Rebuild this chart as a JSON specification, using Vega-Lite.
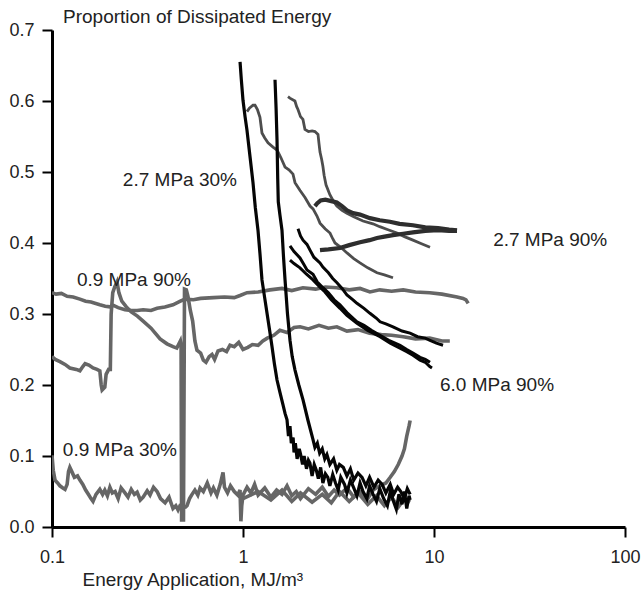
{
  "$schema": "https://vega.github.io/schema/vega-lite/v6.json",
  "width": 573,
  "height": 497,
  "autosize": "none",
  "padding": {"left": 52, "top": 30, "right": 19, "bottom": 63},
  "background": "white",
  "config": {
    "view": {"stroke": null},
    "font": "Liberation Sans",
    "title": {"font": "Liberation Sans"}
  },
  "title": {
    "text": "Proportion of Dissipated Energy",
    "anchor": "start",
    "frame": "group",
    "dx": 11,
    "dy": 12,
    "offset": 6,
    "fontSize": 19,
    "fontWeight": "normal",
    "color": "#222"
  },
  "datasets": {
    "lines": [
      {"s":"0.9a","x":0.100,"y":0.330},{"s":"0.9a","x":0.105,"y":0.328},{"s":"0.9a","x":0.112,"y":0.329},{"s":"0.9a","x":0.120,"y":0.325},{"s":"0.9a","x":0.129,"y":0.324},{"s":"0.9a","x":0.140,"y":0.321},{"s":"0.9a","x":0.150,"y":0.318},{"s":"0.9a","x":0.160,"y":0.317},{"s":"0.9a","x":0.178,"y":0.313},{"s":"0.9a","x":0.190,"y":0.311},{"s":"0.9a","x":0.201,"y":0.310},{"s":"0.9a","x":0.210,"y":0.312},{"s":"0.9a","x":0.222,"y":0.309},{"s":"0.9a","x":0.241,"y":0.306},{"s":"0.9a","x":0.260,"y":0.305},{"s":"0.9a","x":0.279,"y":0.305},{"s":"0.9a","x":0.300,"y":0.306},{"s":"0.9a","x":0.330,"y":0.305},{"s":"0.9a","x":0.355,"y":0.308},{"s":"0.9a","x":0.390,"y":0.310},{"s":"0.9a","x":0.430,"y":0.313},{"s":"0.9a","x":0.470,"y":0.318},{"s":"0.9a","x":0.497,"y":0.321},{"s":"0.9a","x":0.550,"y":0.320},{"s":"0.9a","x":0.600,"y":0.322},{"s":"0.9a","x":0.700,"y":0.323},{"s":"0.9a","x":0.800,"y":0.324},{"s":"0.9a","x":0.900,"y":0.323},{"s":"0.9a","x":0.965,"y":0.326},{"s":"0.9a","x":1.05,"y":0.330},{"s":"0.9a","x":1.2,"y":0.331},{"s":"0.9a","x":1.385,"y":0.334},{"s":"0.9a","x":1.6,"y":0.336},{"s":"0.9a","x":1.8,"y":0.333},{"s":"0.9a","x":2.06,"y":0.337},{"s":"0.9a","x":2.4,"y":0.335},{"s":"0.9a","x":2.7,"y":0.338},{"s":"0.9a","x":3.1,"y":0.337},{"s":"0.9a","x":3.6,"y":0.334},{"s":"0.9a","x":4.1,"y":0.336},{"s":"0.9a","x":4.62,"y":0.331},{"s":"0.9a","x":5.2,"y":0.334},{"s":"0.9a","x":6.0,"y":0.332},{"s":"0.9a","x":6.9,"y":0.334},{"s":"0.9a","x":8.0,"y":0.331},{"s":"0.9a","x":9.5,"y":0.330},{"s":"0.9a","x":11,"y":0.328},{"s":"0.9a","x":13.2,"y":0.324},{"s":"0.9a","x":14.2,"y":0.322},{"s":"0.9a","x":14.7,"y":0.320},{"s":"0.9a","x":15.1,"y":0.315},

      {"s":"0.9b","x":0.100,"y":0.240},{"s":"0.9b","x":0.104,"y":0.236},{"s":"0.9b","x":0.110,"y":0.233},{"s":"0.9b","x":0.117,"y":0.229},{"s":"0.9b","x":0.124,"y":0.224},{"s":"0.9b","x":0.134,"y":0.222},{"s":"0.9b","x":0.140,"y":0.220},{"s":"0.9b","x":0.145,"y":0.226},{"s":"0.9b","x":0.149,"y":0.230},{"s":"0.9b","x":0.156,"y":0.228},{"s":"0.9b","x":0.164,"y":0.224},{"s":"0.9b","x":0.172,"y":0.222},{"s":"0.9b","x":0.178,"y":0.220},{"s":"0.9b","x":0.181,"y":0.200},{"s":"0.9b","x":0.183,"y":0.193},{"s":"0.9b","x":0.189,"y":0.197},{"s":"0.9b","x":0.192,"y":0.215},{"s":"0.9b","x":0.198,"y":0.222},{"s":"0.9b","x":0.202,"y":0.222},{"s":"0.9b","x":0.204,"y":0.300},{"s":"0.9b","x":0.208,"y":0.330},{"s":"0.9b","x":0.213,"y":0.338},{"s":"0.9b","x":0.219,"y":0.345},{"s":"0.9b","x":0.224,"y":0.330},{"s":"0.9b","x":0.232,"y":0.318},{"s":"0.9b","x":0.245,"y":0.310},{"s":"0.9b","x":0.260,"y":0.303},{"s":"0.9b","x":0.280,"y":0.297},{"s":"0.9b","x":0.300,"y":0.290},{"s":"0.9b","x":0.330,"y":0.280},{"s":"0.9b","x":0.368,"y":0.265},{"s":"0.9b","x":0.400,"y":0.258},{"s":"0.9b","x":0.430,"y":0.254},{"s":"0.9b","x":0.450,"y":0.252},{"s":"0.9b","x":0.462,"y":0.258},{"s":"0.9b","x":0.470,"y":0.262},{"s":"0.9b","x":0.474,"y":0.255},{"s":"0.9b","x":0.477,"y":0.010},{"s":"0.9b","x":0.488,"y":0.010},{"s":"0.9b","x":0.494,"y":0.335},{"s":"0.9b","x":0.505,"y":0.334},{"s":"0.9b","x":0.515,"y":0.325},{"s":"0.9b","x":0.530,"y":0.305},{"s":"0.9b","x":0.545,"y":0.290},{"s":"0.9b","x":0.560,"y":0.262},{"s":"0.9b","x":0.574,"y":0.249},{"s":"0.9b","x":0.600,"y":0.245},{"s":"0.9b","x":0.620,"y":0.235},{"s":"0.9b","x":0.640,"y":0.232},{"s":"0.9b","x":0.665,"y":0.240},{"s":"0.9b","x":0.688,"y":0.243},{"s":"0.9b","x":0.710,"y":0.236},{"s":"0.9b","x":0.740,"y":0.248},{"s":"0.9b","x":0.780,"y":0.250},{"s":"0.9b","x":0.820,"y":0.247},{"s":"0.9b","x":0.855,"y":0.256},{"s":"0.9b","x":0.900,"y":0.254},{"s":"0.9b","x":0.950,"y":0.260},{"s":"0.9b","x":1.0,"y":0.250},{"s":"0.9b","x":1.06,"y":0.253},{"s":"0.9b","x":1.12,"y":0.257},{"s":"0.9b","x":1.2,"y":0.256},{"s":"0.9b","x":1.27,"y":0.262},{"s":"0.9b","x":1.34,"y":0.266},{"s":"0.9b","x":1.45,"y":0.270},{"s":"0.9b","x":1.56,"y":0.277},{"s":"0.9b","x":1.7,"y":0.274},{"s":"0.9b","x":1.85,"y":0.281},{"s":"0.9b","x":1.99,"y":0.282},{"s":"0.9b","x":2.2,"y":0.279},{"s":"0.9b","x":2.5,"y":0.284},{"s":"0.9b","x":2.8,"y":0.280},{"s":"0.9b","x":3.1,"y":0.282},{"s":"0.9b","x":3.5,"y":0.276},{"s":"0.9b","x":4.0,"y":0.278},{"s":"0.9b","x":4.6,"y":0.273},{"s":"0.9b","x":5.3,"y":0.271},{"s":"0.9b","x":6.0,"y":0.270},{"s":"0.9b","x":6.9,"y":0.268},{"s":"0.9b","x":8.0,"y":0.265},{"s":"0.9b","x":9.5,"y":0.266},{"s":"0.9b","x":11,"y":0.262},{"s":"0.9b","x":12.1,"y":0.262},

      {"s":"0.9c","x":0.100,"y":0.101},{"s":"0.9c","x":0.1015,"y":0.080},{"s":"0.9c","x":0.1037,"y":0.066},{"s":"0.9c","x":0.107,"y":0.062},{"s":"0.9c","x":0.110,"y":0.058},{"s":"0.9c","x":0.114,"y":0.055},{"s":"0.9c","x":0.117,"y":0.053},{"s":"0.9c","x":0.120,"y":0.060},{"s":"0.9c","x":0.122,"y":0.078},{"s":"0.9c","x":0.124,"y":0.084},{"s":"0.9c","x":0.127,"y":0.078},{"s":"0.9c","x":0.131,"y":0.070},{"s":"0.9c","x":0.136,"y":0.072},{"s":"0.9c","x":0.140,"y":0.066},{"s":"0.9c","x":0.145,"y":0.060},{"s":"0.9c","x":0.150,"y":0.052},{"s":"0.9c","x":0.155,"y":0.046},{"s":"0.9c","x":0.160,"y":0.040},{"s":"0.9c","x":0.164,"y":0.036},{"s":"0.9c","x":0.170,"y":0.046},{"s":"0.9c","x":0.178,"y":0.053},{"s":"0.9c","x":0.184,"y":0.046},{"s":"0.9c","x":0.189,"y":0.052},{"s":"0.9c","x":0.195,"y":0.044},{"s":"0.9c","x":0.201,"y":0.056},{"s":"0.9c","x":0.207,"y":0.048},{"s":"0.9c","x":0.214,"y":0.050},{"s":"0.9c","x":0.222,"y":0.040},{"s":"0.9c","x":0.230,"y":0.055},{"s":"0.9c","x":0.241,"y":0.048},{"s":"0.9c","x":0.250,"y":0.042},{"s":"0.9c","x":0.260,"y":0.053},{"s":"0.9c","x":0.270,"y":0.046},{"s":"0.9c","x":0.279,"y":0.049},{"s":"0.9c","x":0.290,"y":0.038},{"s":"0.9c","x":0.300,"y":0.042},{"s":"0.9c","x":0.315,"y":0.051},{"s":"0.9c","x":0.326,"y":0.045},{"s":"0.9c","x":0.340,"y":0.056},{"s":"0.9c","x":0.355,"y":0.050},{"s":"0.9c","x":0.370,"y":0.040},{"s":"0.9c","x":0.391,"y":0.034},{"s":"0.9c","x":0.410,"y":0.042},{"s":"0.9c","x":0.430,"y":0.026},{"s":"0.9c","x":0.445,"y":0.030},{"s":"0.9c","x":0.457,"y":0.024},{"s":"0.9c","x":0.468,"y":0.030},{"s":"0.9c","x":0.500,"y":0.028},{"s":"0.9c","x":0.509,"y":0.030},{"s":"0.9c","x":0.525,"y":0.040},{"s":"0.9c","x":0.541,"y":0.046},{"s":"0.9c","x":0.560,"y":0.052},{"s":"0.9c","x":0.580,"y":0.045},{"s":"0.9c","x":0.596,"y":0.055},{"s":"0.9c","x":0.620,"y":0.050},{"s":"0.9c","x":0.650,"y":0.062},{"s":"0.9c","x":0.680,"y":0.048},{"s":"0.9c","x":0.700,"y":0.055},{"s":"0.9c","x":0.730,"y":0.045},{"s":"0.9c","x":0.760,"y":0.060},{"s":"0.9c","x":0.786,"y":0.077},{"s":"0.9c","x":0.800,"y":0.056},{"s":"0.9c","x":0.830,"y":0.048},{"s":"0.9c","x":0.860,"y":0.058},{"s":"0.9c","x":0.900,"y":0.050},{"s":"0.9c","x":0.940,"y":0.045},{"s":"0.9c","x":0.965,"y":0.052},{"s":"0.9c","x":0.975,"y":0.008},{"s":"0.9c","x":0.985,"y":0.030},{"s":"0.9c","x":1.0,"y":0.045},{"s":"0.9c","x":1.05,"y":0.056},{"s":"0.9c","x":1.1,"y":0.048},{"s":"0.9c","x":1.15,"y":0.060},{"s":"0.9c","x":1.2,"y":0.045},{"s":"0.9c","x":1.3,"y":0.055},{"s":"0.9c","x":1.4,"y":0.042},{"s":"0.9c","x":1.5,"y":0.052},{"s":"0.9c","x":1.6,"y":0.046},{"s":"0.9c","x":1.7,"y":0.058},{"s":"0.9c","x":1.8,"y":0.044},{"s":"0.9c","x":1.9,"y":0.050},{"s":"0.9c","x":2.0,"y":0.040},{"s":"0.9c","x":2.2,"y":0.054},{"s":"0.9c","x":2.4,"y":0.046},{"s":"0.9c","x":2.6,"y":0.056},{"s":"0.9c","x":2.8,"y":0.043},{"s":"0.9c","x":3.0,"y":0.052},{"s":"0.9c","x":3.2,"y":0.045},{"s":"0.9c","x":3.5,"y":0.055},{"s":"0.9c","x":3.8,"y":0.042},{"s":"0.9c","x":4.1,"y":0.050},{"s":"0.9c","x":4.5,"y":0.040},{"s":"0.9c","x":4.8,"y":0.052},{"s":"0.9c","x":5.2,"y":0.058},{"s":"0.9c","x":5.6,"y":0.062},{"s":"0.9c","x":5.9,"y":0.070},{"s":"0.9c","x":6.2,"y":0.078},{"s":"0.9c","x":6.5,"y":0.088},{"s":"0.9c","x":6.8,"y":0.100},{"s":"0.9c","x":7.0,"y":0.110},{"s":"0.9c","x":7.2,"y":0.128},{"s":"0.9c","x":7.4,"y":0.142},{"s":"0.9c","x":7.5,"y":0.150},

      {"s":"0.9d","x":1.0,"y":0.040},{"s":"0.9d","x":1.2,"y":0.050},{"s":"0.9d","x":1.4,"y":0.038},{"s":"0.9d","x":1.6,"y":0.052},{"s":"0.9d","x":1.8,"y":0.036},{"s":"0.9d","x":2.0,"y":0.048},{"s":"0.9d","x":2.3,"y":0.035},{"s":"0.9d","x":2.6,"y":0.046},{"s":"0.9d","x":2.9,"y":0.034},{"s":"0.9d","x":3.2,"y":0.050},{"s":"0.9d","x":3.6,"y":0.036},{"s":"0.9d","x":4.0,"y":0.048},{"s":"0.9d","x":4.5,"y":0.032},{"s":"0.9d","x":5.0,"y":0.044},{"s":"0.9d","x":5.5,"y":0.030},{"s":"0.9d","x":6.0,"y":0.042},{"s":"0.9d","x":6.5,"y":0.028},{"s":"0.9d","x":7.0,"y":0.040},{"s":"0.9d","x":7.5,"y":0.035},

      {"s":"2.7-30a","x":1.049,"y":0.585},{"s":"2.7-30a","x":1.08,"y":0.590},{"s":"2.7-30a","x":1.128,"y":0.594},{"s":"2.7-30a","x":1.156,"y":0.594},{"s":"2.7-30a","x":1.19,"y":0.588},{"s":"2.7-30a","x":1.227,"y":0.577},{"s":"2.7-30a","x":1.257,"y":0.555},{"s":"2.7-30a","x":1.30,"y":0.548},{"s":"2.7-30a","x":1.352,"y":0.541},{"s":"2.7-30a","x":1.436,"y":0.535},{"s":"2.7-30a","x":1.507,"y":0.531},{"s":"2.7-30a","x":1.58,"y":0.520},{"s":"2.7-30a","x":1.66,"y":0.507},{"s":"2.7-30a","x":1.74,"y":0.503},{"s":"2.7-30a","x":1.827,"y":0.497},{"s":"2.7-30a","x":1.872,"y":0.485},{"s":"2.7-30a","x":1.99,"y":0.474},{"s":"2.7-30a","x":2.112,"y":0.464},{"s":"2.7-30a","x":2.243,"y":0.452},{"s":"2.7-30a","x":2.326,"y":0.448},{"s":"2.7-30a","x":2.44,"y":0.438},{"s":"2.7-30a","x":2.53,"y":0.428},{"s":"2.7-30a","x":2.69,"y":0.420},{"s":"2.7-30a","x":2.855,"y":0.414},{"s":"2.7-30a","x":2.95,"y":0.406},{"s":"2.7-30a","x":3.032,"y":0.400},{"s":"2.7-30a","x":3.25,"y":0.394},{"s":"2.7-30a","x":3.504,"y":0.386},{"s":"2.7-30a","x":3.8,"y":0.378},{"s":"2.7-30a","x":4.099,"y":0.372},{"s":"2.7-30a","x":4.5,"y":0.365},{"s":"2.7-30a","x":5.031,"y":0.358},{"s":"2.7-30a","x":5.5,"y":0.355},{"s":"2.7-30a","x":6.1,"y":0.351},

      {"s":"2.7-30b","x":1.72,"y":0.606},{"s":"2.7-30b","x":1.76,"y":0.604},{"s":"2.7-30b","x":1.87,"y":0.600},{"s":"2.7-30b","x":1.91,"y":0.592},{"s":"2.7-30b","x":1.94,"y":0.588},{"s":"2.7-30b","x":2.0,"y":0.578},{"s":"2.7-30b","x":2.06,"y":0.574},{"s":"2.7-30b","x":2.11,"y":0.560},{"s":"2.7-30b","x":2.2,"y":0.557},{"s":"2.7-30b","x":2.3,"y":0.558},{"s":"2.7-30b","x":2.38,"y":0.557},{"s":"2.7-30b","x":2.47,"y":0.553},{"s":"2.7-30b","x":2.50,"y":0.540},{"s":"2.7-30b","x":2.53,"y":0.528},{"s":"2.7-30b","x":2.58,"y":0.518},{"s":"2.7-30b","x":2.62,"y":0.508},{"s":"2.7-30b","x":2.66,"y":0.495},{"s":"2.7-30b","x":2.72,"y":0.482},{"s":"2.7-30b","x":2.85,"y":0.468},{"s":"2.7-30b","x":2.96,"y":0.460},{"s":"2.7-30b","x":3.1,"y":0.452},{"s":"2.7-30b","x":3.3,"y":0.446},{"s":"2.7-30b","x":3.5,"y":0.442},{"s":"2.7-30b","x":3.8,"y":0.437},{"s":"2.7-30b","x":4.25,"y":0.431},{"s":"2.7-30b","x":4.79,"y":0.427},{"s":"2.7-30b","x":5.2,"y":0.423},{"s":"2.7-30b","x":5.7,"y":0.419},{"s":"2.7-30b","x":6.4,"y":0.414},{"s":"2.7-30b","x":7.0,"y":0.409},{"s":"2.7-30b","x":7.76,"y":0.404},{"s":"2.7-30b","x":8.6,"y":0.399},{"s":"2.7-30b","x":9.53,"y":0.394},

      {"s":"2.7-90a","x":2.38,"y":0.452},{"s":"2.7-90a","x":2.45,"y":0.456},{"s":"2.7-90a","x":2.55,"y":0.460},{"s":"2.7-90a","x":2.7,"y":0.461},{"s":"2.7-90a","x":2.9,"y":0.459},{"s":"2.7-90a","x":3.1,"y":0.457},{"s":"2.7-90a","x":3.3,"y":0.452},{"s":"2.7-90a","x":3.5,"y":0.446},{"s":"2.7-90a","x":3.77,"y":0.442},{"s":"2.7-90a","x":4.1,"y":0.440},{"s":"2.7-90a","x":4.62,"y":0.435},{"s":"2.7-90a","x":5.2,"y":0.432},{"s":"2.7-90a","x":5.88,"y":0.430},{"s":"2.7-90a","x":6.6,"y":0.427},{"s":"2.7-90a","x":7.76,"y":0.425},{"s":"2.7-90a","x":9.0,"y":0.422},{"s":"2.7-90a","x":10.5,"y":0.421},{"s":"2.7-90a","x":12.0,"y":0.419},{"s":"2.7-90a","x":13.2,"y":0.418},

      {"s":"2.7-90b","x":2.53,"y":0.390},{"s":"2.7-90b","x":2.8,"y":0.391},{"s":"2.7-90b","x":3.22,"y":0.393},{"s":"2.7-90b","x":3.6,"y":0.397},{"s":"2.7-90b","x":4.1,"y":0.401},{"s":"2.7-90b","x":4.6,"y":0.404},{"s":"2.7-90b","x":5.03,"y":0.407},{"s":"2.7-90b","x":5.5,"y":0.409},{"s":"2.7-90b","x":6.1,"y":0.411},{"s":"2.7-90b","x":6.9,"y":0.413},{"s":"2.7-90b","x":7.76,"y":0.415},{"s":"2.7-90b","x":9.0,"y":0.417},{"s":"2.7-90b","x":10.5,"y":0.418},{"s":"2.7-90b","x":12.0,"y":0.417},{"s":"2.7-90b","x":13.2,"y":0.417},

      {"s":"6.0-90a","x":1.941,"y":0.420},{"s":"6.0-90a","x":2.0,"y":0.410},{"s":"6.0-90a","x":2.062,"y":0.404},{"s":"6.0-90a","x":2.163,"y":0.398},{"s":"6.0-90a","x":2.243,"y":0.390},{"s":"6.0-90a","x":2.35,"y":0.380},{"s":"6.0-90a","x":2.53,"y":0.372},{"s":"6.0-90a","x":2.62,"y":0.366},{"s":"6.0-90a","x":2.8,"y":0.358},{"s":"6.0-90a","x":2.95,"y":0.350},{"s":"6.0-90a","x":3.105,"y":0.344},{"s":"6.0-90a","x":3.3,"y":0.336},{"s":"6.0-90a","x":3.5,"y":0.327},{"s":"6.0-90a","x":3.766,"y":0.320},{"s":"6.0-90a","x":3.95,"y":0.315},{"s":"6.0-90a","x":4.3,"y":0.308},{"s":"6.0-90a","x":4.62,"y":0.301},{"s":"6.0-90a","x":5.0,"y":0.294},{"s":"6.0-90a","x":5.22,"y":0.289},{"s":"6.0-90a","x":5.6,"y":0.286},{"s":"6.0-90a","x":6.1,"y":0.282},{"s":"6.0-90a","x":6.8,"y":0.276},{"s":"6.0-90a","x":7.49,"y":0.273},{"s":"6.0-90a","x":8.2,"y":0.268},{"s":"6.0-90a","x":9.0,"y":0.266},{"s":"6.0-90a","x":9.53,"y":0.263},{"s":"6.0-90a","x":10.3,"y":0.259},{"s":"6.0-90a","x":11.15,"y":0.256},

      {"s":"6.0-90b","x":1.762,"y":0.396},{"s":"6.0-90b","x":1.85,"y":0.388},{"s":"6.0-90b","x":1.988,"y":0.379},{"s":"6.0-90b","x":2.08,"y":0.370},{"s":"6.0-90b","x":2.163,"y":0.362},{"s":"6.0-90b","x":2.326,"y":0.356},{"s":"6.0-90b","x":2.45,"y":0.345},{"s":"6.0-90b","x":2.623,"y":0.337},{"s":"6.0-90b","x":2.8,"y":0.330},{"s":"6.0-90b","x":3.0,"y":0.320},{"s":"6.0-90b","x":3.22,"y":0.313},{"s":"6.0-90b","x":3.5,"y":0.302},{"s":"6.0-90b","x":3.952,"y":0.289},{"s":"6.0-90b","x":4.3,"y":0.284},{"s":"6.0-90b","x":4.7,"y":0.277},{"s":"6.0-90b","x":5.216,"y":0.270},{"s":"6.0-90b","x":5.8,"y":0.263},{"s":"6.0-90b","x":6.64,"y":0.256},{"s":"6.0-90b","x":7.2,"y":0.250},{"s":"6.0-90b","x":7.76,"y":0.245},{"s":"6.0-90b","x":8.45,"y":0.239},{"s":"6.0-90b","x":9.0,"y":0.236},{"s":"6.0-90b","x":9.53,"y":0.232},

      {"s":"6.0-90c","x":1.762,"y":0.376},{"s":"6.0-90c","x":1.85,"y":0.371},{"s":"6.0-90c","x":1.988,"y":0.365},{"s":"6.0-90c","x":2.15,"y":0.356},{"s":"6.0-90c","x":2.326,"y":0.348},{"s":"6.0-90c","x":2.5,"y":0.339},{"s":"6.0-90c","x":2.687,"y":0.331},{"s":"6.0-90c","x":2.9,"y":0.320},{"s":"6.0-90c","x":3.22,"y":0.308},{"s":"6.0-90c","x":3.5,"y":0.298},{"s":"6.0-90c","x":3.95,"y":0.287},{"s":"6.0-90c","x":4.5,"y":0.277},{"s":"6.0-90c","x":5.216,"y":0.268},{"s":"6.0-90c","x":5.9,"y":0.259},{"s":"6.0-90c","x":6.637,"y":0.252},{"s":"6.0-90c","x":7.2,"y":0.247},{"s":"6.0-90c","x":7.76,"y":0.242},{"s":"6.0-90c","x":8.45,"y":0.235},{"s":"6.0-90c","x":9.0,"y":0.232},{"s":"6.0-90c","x":9.5,"y":0.226},{"s":"6.0-90c","x":9.76,"y":0.224},

      {"s":"6.0-30a","x":0.965,"y":0.655},{"s":"6.0-30a","x":0.98,"y":0.630},{"s":"6.0-30a","x":1.0,"y":0.601},{"s":"6.0-30a","x":1.025,"y":0.578},{"s":"6.0-30a","x":1.049,"y":0.559},{"s":"6.0-30a","x":1.09,"y":0.520},{"s":"6.0-30a","x":1.128,"y":0.485},{"s":"6.0-30a","x":1.16,"y":0.450},{"s":"6.0-30a","x":1.198,"y":0.418},{"s":"6.0-30a","x":1.227,"y":0.385},{"s":"6.0-30a","x":1.257,"y":0.348},{"s":"6.0-30a","x":1.30,"y":0.322},{"s":"6.0-30a","x":1.336,"y":0.301},{"s":"6.0-30a","x":1.38,"y":0.276},{"s":"6.0-30a","x":1.419,"y":0.254},{"s":"6.0-30a","x":1.46,"y":0.230},{"s":"6.0-30a","x":1.507,"y":0.207},{"s":"6.0-30a","x":1.56,"y":0.190},{"s":"6.0-30a","x":1.62,"y":0.172},{"s":"6.0-30a","x":1.66,"y":0.160},{"s":"6.0-30a","x":1.70,"y":0.151},{"s":"6.0-30a","x":1.73,"y":0.128},{"s":"6.0-30a","x":1.762,"y":0.142},{"s":"6.0-30a","x":1.79,"y":0.118},{"s":"6.0-30a","x":1.83,"y":0.126},{"s":"6.0-30a","x":1.85,"y":0.105},{"s":"6.0-30a","x":1.88,"y":0.118},{"s":"6.0-30a","x":1.92,"y":0.096},{"s":"6.0-30a","x":1.97,"y":0.110},{"s":"6.0-30a","x":2.0,"y":0.103},{"s":"6.0-30a","x":2.05,"y":0.088},{"s":"6.0-30a","x":2.09,"y":0.100},{"s":"6.0-30a","x":2.15,"y":0.082},{"s":"6.0-30a","x":2.2,"y":0.094},{"s":"6.0-30a","x":2.24,"y":0.090},{"s":"6.0-30a","x":2.3,"y":0.072},{"s":"6.0-30a","x":2.36,"y":0.088},{"s":"6.0-30a","x":2.42,"y":0.080},{"s":"6.0-30a","x":2.48,"y":0.068},{"s":"6.0-30a","x":2.55,"y":0.084},{"s":"6.0-30a","x":2.62,"y":0.062},{"s":"6.0-30a","x":2.7,"y":0.075},{"s":"6.0-30a","x":2.78,"y":0.070},{"s":"6.0-30a","x":2.85,"y":0.058},{"s":"6.0-30a","x":2.95,"y":0.074},{"s":"6.0-30a","x":3.05,"y":0.062},{"s":"6.0-30a","x":3.15,"y":0.052},{"s":"6.0-30a","x":3.25,"y":0.070},{"s":"6.0-30a","x":3.4,"y":0.060},{"s":"6.0-30a","x":3.5,"y":0.048},{"s":"6.0-30a","x":3.65,"y":0.066},{"s":"6.0-30a","x":3.8,"y":0.055},{"s":"6.0-30a","x":3.95,"y":0.044},{"s":"6.0-30a","x":4.1,"y":0.062},{"s":"6.0-30a","x":4.25,"y":0.050},{"s":"6.0-30a","x":4.45,"y":0.040},{"s":"6.0-30a","x":4.6,"y":0.058},{"s":"6.0-30a","x":4.8,"y":0.046},{"s":"6.0-30a","x":5.0,"y":0.036},{"s":"6.0-30a","x":5.2,"y":0.054},{"s":"6.0-30a","x":5.45,"y":0.040},{"s":"6.0-30a","x":5.7,"y":0.030},{"s":"6.0-30a","x":5.9,"y":0.050},{"s":"6.0-30a","x":6.1,"y":0.038},{"s":"6.0-30a","x":6.35,"y":0.025},{"s":"6.0-30a","x":6.55,"y":0.046},{"s":"6.0-30a","x":6.8,"y":0.032},{"s":"6.0-30a","x":7.0,"y":0.050},{"s":"6.0-30a","x":7.2,"y":0.026},{"s":"6.0-30a","x":7.4,"y":0.044},{"s":"6.0-30a","x":7.5,"y":0.038},

      {"s":"6.0-30b","x":1.471,"y":0.630},{"s":"6.0-30b","x":1.49,"y":0.590},{"s":"6.0-30b","x":1.507,"y":0.545},{"s":"6.0-30b","x":1.52,"y":0.490},{"s":"6.0-30b","x":1.53,"y":0.458},{"s":"6.0-30b","x":1.56,"y":0.440},{"s":"6.0-30b","x":1.60,"y":0.418},{"s":"6.0-30b","x":1.63,"y":0.380},{"s":"6.0-30b","x":1.66,"y":0.348},{"s":"6.0-30b","x":1.71,"y":0.300},{"s":"6.0-30b","x":1.762,"y":0.263},{"s":"6.0-30b","x":1.81,"y":0.240},{"s":"6.0-30b","x":1.872,"y":0.221},{"s":"6.0-30b","x":1.96,"y":0.200},{"s":"6.0-30b","x":2.062,"y":0.179},{"s":"6.0-30b","x":2.19,"y":0.150},{"s":"6.0-30b","x":2.326,"y":0.123},{"s":"6.0-30b","x":2.38,"y":0.112},{"s":"6.0-30b","x":2.45,"y":0.118},{"s":"6.0-30b","x":2.52,"y":0.104},{"s":"6.0-30b","x":2.6,"y":0.110},{"s":"6.0-30b","x":2.68,"y":0.096},{"s":"6.0-30b","x":2.75,"y":0.102},{"s":"6.0-30b","x":2.85,"y":0.088},{"s":"6.0-30b","x":2.98,"y":0.096},{"s":"6.0-30b","x":3.1,"y":0.080},{"s":"6.0-30b","x":3.2,"y":0.088},{"s":"6.0-30b","x":3.35,"y":0.084},{"s":"6.0-30b","x":3.5,"y":0.072},{"s":"6.0-30b","x":3.65,"y":0.082},{"s":"6.0-30b","x":3.8,"y":0.066},{"s":"6.0-30b","x":4.0,"y":0.076},{"s":"6.0-30b","x":4.2,"y":0.070},{"s":"6.0-30b","x":4.4,"y":0.058},{"s":"6.0-30b","x":4.6,"y":0.070},{"s":"6.0-30b","x":4.85,"y":0.056},{"s":"6.0-30b","x":5.1,"y":0.066},{"s":"6.0-30b","x":5.35,"y":0.060},{"s":"6.0-30b","x":5.6,"y":0.048},{"s":"6.0-30b","x":5.9,"y":0.060},{"s":"6.0-30b","x":6.15,"y":0.046},{"s":"6.0-30b","x":6.45,"y":0.056},{"s":"6.0-30b","x":6.7,"y":0.050},{"s":"6.0-30b","x":7.0,"y":0.040},{"s":"6.0-30b","x":7.25,"y":0.054},{"s":"6.0-30b","x":7.5,"y":0.046}
    ],
    "notes": [
      {"label": "2.7 MPa 30%", "x": 0.235, "y": 0.489},
      {"label": "0.9 MPa 90%", "x": 0.135, "y": 0.348},
      {"label": "0.9 MPa 30%", "x": 0.114, "y": 0.108},
      {"label": "2.7 MPa 90%", "x": 20.4, "y": 0.404},
      {"label": "6.0 MPa 90%", "x": 10.75, "y": 0.2}
    ],
    "ticks": [{"x": 1}, {"x": 10}, {"x": 100}]
  },
  "encoding": {
    "x": {
      "field": "x",
      "type": "quantitative",
      "scale": {"type": "log", "domain": [0.1, 100], "nice": false},
      "axis": {
        "values": [0.1, 1, 10, 100],
        "format": "~g",
        "grid": false,
        "domainColor": "#000",
        "domainWidth": 3,
        "tickColor": "#000",
        "tickWidth": 2,
        "tickSize": 10,
        "labelFontSize": 18,
        "labelColor": "#222",
        "labelPadding": 11,
        "labelFlush": false,
        "labelOverlap": false,
        "title": "Energy Application, MJ/m³",
        "titleFontSize": 19,
        "titleFontWeight": "normal",
        "titleColor": "#222",
        "titleAnchor": "start",
        "titleAlign": "left",
        "titleBaseline": "alphabetic",
        "titleX": 30,
        "titleY": 58
      }
    },
    "y": {
      "field": "y",
      "type": "quantitative",
      "scale": {"domain": [0, 0.7], "nice": false, "zero": true},
      "axis": {
        "values": [0, 0.1, 0.2, 0.3, 0.4, 0.5, 0.6, 0.7],
        "format": ".1f",
        "grid": false,
        "domainColor": "#000",
        "domainWidth": 3,
        "tickColor": "#000",
        "tickWidth": 2,
        "tickSize": 10,
        "labelFontSize": 18,
        "labelColor": "#222",
        "labelPadding": 8,
        "labelFlush": false,
        "labelOverlap": false,
        "title": null
      }
    }
  },
  "layer": [
    {
      "data": {"name": "lines"},
      "transform": [{"filter": {"field": "s", "oneOf": ["0.9a", "0.9b", "0.9c", "0.9d"]}}],
      "mark": {"type": "line", "color": "#666666", "strokeWidth": 3.6, "strokeJoin": "miter", "clip": true},
      "encoding": {"detail": {"field": "s"}}
    },
    {
      "data": {"name": "lines"},
      "transform": [{"filter": {"field": "s", "oneOf": ["2.7-30a", "2.7-30b"]}}],
      "mark": {"type": "line", "color": "#4d4d4d", "strokeWidth": 2.8, "clip": true},
      "encoding": {"detail": {"field": "s"}}
    },
    {
      "data": {"name": "lines"},
      "transform": [{"filter": {"field": "s", "oneOf": ["2.7-90a", "2.7-90b"]}}],
      "mark": {"type": "line", "color": "#2e2e2e", "strokeWidth": 4.2, "clip": true},
      "encoding": {"detail": {"field": "s"}}
    },
    {
      "data": {"name": "lines"},
      "transform": [{"filter": {"field": "s", "oneOf": ["6.0-90a", "6.0-90b", "6.0-90c"]}}],
      "mark": {"type": "line", "color": "#050505", "strokeWidth": 3, "clip": true},
      "encoding": {"detail": {"field": "s"}}
    },
    {
      "data": {"name": "lines"},
      "transform": [{"filter": {"field": "s", "oneOf": ["6.0-30a", "6.0-30b"]}}],
      "mark": {"type": "line", "color": "#050505", "strokeWidth": 3.2, "strokeJoin": "miter", "clip": true},
      "encoding": {"detail": {"field": "s"}}
    },
    {
      "data": {"name": "notes"},
      "mark": {"type": "text", "align": "left", "baseline": "middle", "fontSize": 19, "color": "#222", "font": "Liberation Sans"},
      "encoding": {"text": {"field": "label"}}
    },
    {
      "data": {"name": "ticks"},
      "mark": {"type": "rule", "color": "#000", "strokeWidth": 2},
      "encoding": {"y": {"datum": 0}, "y2": {"datum": 0.012}}
    }
  ]
}
